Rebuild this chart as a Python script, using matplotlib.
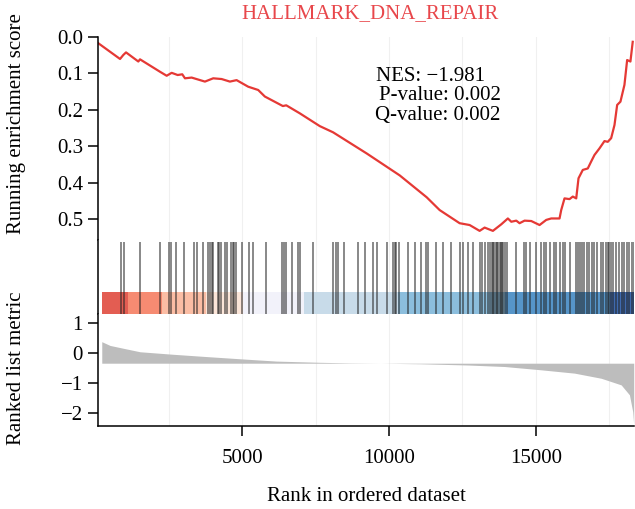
"""GSEA enrichment plot for the HALLMARK_DNA_REPAIR gene set."""

import matplotlib
matplotlib.use("Agg")
import matplotlib.pyplot as plt

# Running enrichment score (absolute value) along the ranked list
es_rank = [102, 840, 952, 1044, 1463, 1520, 2200, 2428, 2598, 2802, 2959, 3051,
           3278, 3731, 4013, 4299, 4581, 4809, 5204, 5544, 5772, 6384, 6500,
           6962, 7642, 8095, 9241, 10363, 11282, 11723, 12403, 12744, 13084,
           13254, 13536, 13822, 14046, 14162, 14332, 14444, 14614, 14842, 15125,
           15352, 15522, 15805, 15862, 15975, 16145, 16257, 16373, 16451, 16597,
           16767, 16882, 16995, 17165, 17335, 17447, 17563, 17676, 17767, 17879,
           18015, 18107, 18219, 18297]
es_score = [0.018, 0.061, 0.050, 0.043, 0.068, 0.062, 0.096, 0.107, 0.099, 0.105,
            0.103, 0.114, 0.112, 0.123, 0.114, 0.116, 0.123, 0.119, 0.137, 0.146,
            0.164, 0.190, 0.188, 0.210, 0.245, 0.262, 0.320, 0.380, 0.440, 0.475,
            0.511, 0.516, 0.532, 0.523, 0.532, 0.514, 0.498, 0.507, 0.504, 0.511,
            0.504, 0.505, 0.516, 0.502, 0.498, 0.498, 0.475, 0.443, 0.445, 0.438,
            0.443, 0.388, 0.365, 0.361, 0.342, 0.324, 0.306, 0.286, 0.288, 0.278,
            0.242, 0.187, 0.178, 0.132, 0.064, 0.068, 0.014]

# Positions of gene-set members in the ranked list
hits = [874, 986, 1520, 2200, 2517, 2575, 2745, 3017, 3367, 3469, 3673, 3843,
        3901, 3959, 4013, 4163, 4217, 4275, 4411, 4469, 4615, 4673, 4727, 4785,
        4979, 5238, 5374, 5795, 6339, 6418, 6486, 6680, 6904, 6962, 7394, 8094,
        8186, 8264, 8468, 8945, 9173, 9455, 9591, 9931, 10135, 10193, 10251,
        10339, 10645, 10873, 11101, 11271, 11325, 11611, 11835, 12121, 12403,
        12516, 12686, 12856, 13084, 13176, 13254, 13366, 13448, 13490, 13536,
        13580, 13628, 13660, 13706, 13764, 13810, 13856, 13890, 13934, 14012,
        14332, 14580, 14648, 14784, 15012, 15182, 15260, 15352, 15464, 15600,
        15692, 15804, 15916, 15975, 16145, 16373, 16427, 16508, 16576, 16655,
        16733, 16825, 16916, 16995, 17073, 17223, 17280, 17393, 17450, 17505,
        17560, 17617, 17733, 17845, 17937, 18015, 18107, 18185, 18277, 18331]

# Metric heat band: segment edges and colours
band_edges = [218, 1122, 2258, 3765, 5034, 7108, 10305, 13934, 17539, 18331]
band_colors = ["#e0463a", "#f57b5f", "#fbb498", "#fbe2d3", "#f1f1fa",
               "#c1d7e6", "#7cb5d9", "#3f86c2", "#2455a4"]

# Ranked list metric
metric_rank = [218, 500, 952, 1520, 2598, 3789, 5034, 6169, 7642, 8668, 9700,
               11101, 12686, 13934, 15182, 16315, 17223, 17903, 18185, 18297, 18331]
metric_value = [0.365, 0.24, 0.146, 0.03, -0.05, -0.13, -0.21, -0.28, -0.32,
                -0.34, -0.35, -0.37, -0.41, -0.46, -0.57, -0.68, -0.85, -1.07,
                -1.40, -1.96, -2.40]
metric_base = -0.35

plt.rcParams["font.family"] = ["Liberation Serif", "DejaVu Serif"]
plt.rcParams["font.size"] = 15

fig = plt.figure(figsize=(6.35, 5.09), dpi=100)
left, width = 0.1548, 0.8436
ax_es = fig.add_axes([left, 0.5285, width, 0.3994])
ax_bar = fig.add_axes([left, 0.3825, width, 0.1460], sharex=ax_es)
ax_met = fig.add_axes([left, 0.1637, width, 0.2189], sharex=ax_es)

xmin, xmax = 100, 18340
grid_x = [2500, 5000, 7500, 10000, 12500, 15000, 17500]
for ax in (ax_es, ax_bar, ax_met):
    for g in grid_x:
        ax.axvline(g, color="#f0f0f0", lw=0.8, zorder=0)
    for side in ("top", "right"):
        ax.spines[side].set_visible(False)
    ax.spines["left"].set_linewidth(1.1)
    ax.spines["bottom"].set_visible(False)
    ax.tick_params(axis="y", length=7, width=1.1, pad=4)
    ax.tick_params(axis="x", bottom=False, labelbottom=False)

# enrichment score
ax_es.plot(es_rank, es_score, color="#e53935", lw=1.6)
ax_es.set_xlim(xmin, xmax)
ax_es.set_ylim(0.557, 0.0)
ax_es.set_yticks([0.0, 0.1, 0.2, 0.3, 0.4, 0.5])
ax_es.set_yticklabels(["0.0", "0.1", "0.2", "0.3", "0.4", "0.5"])
ax_es.text(11413, 0.108, "NES: \u22121.981", ha="center", va="center")
ax_es.text(11719, 0.162, "P-value: 0.002", ha="center", va="center")
ax_es.text(11672, 0.215, "Q-value: 0.002", ha="center", va="center")

# hit barcode and heat band
ax_bar.vlines(hits, 0, 0.977, color="#222222", alpha=0.65, lw=1.15)
for i, c in enumerate(band_colors):
    ax_bar.axvspan(band_edges[i], band_edges[i + 1], ymin=0, ymax=0.296,
                   color=c, alpha=0.88, lw=0)
ax_bar.set_ylim(0, 1)
ax_bar.set_yticks([])

# ranked list metric
ax_met.fill_between(metric_rank, metric_value, metric_base, color="#bdbdbd", lw=0)
ax_met.set_ylim(-2.425, 1.276)
ax_met.set_yticks([1, 0, -1, -2])
ax_met.spines["bottom"].set_visible(True)
ax_met.spines["bottom"].set_linewidth(1.1)
ax_met.set_xticks([5000, 10000, 15000])
ax_met.tick_params(axis="x", bottom=True, labelbottom=True, length=7,
                   width=1.1, pad=10)

fig.text(0.583, 0.9725, "HALLMARK_DNA_REPAIR", color="#e8474b",
         ha="center", va="center")
fig.text(0.026, 0.757, "Running enrichment score", rotation=90,
         ha="center", va="center")
fig.text(0.026, 0.277, "Ranked list metric", rotation=90,
         ha="center", va="center")
fig.text(0.577, 0.024, "Rank in ordered dataset", ha="center", va="center")

fig.savefig("out.png", dpi=100)
